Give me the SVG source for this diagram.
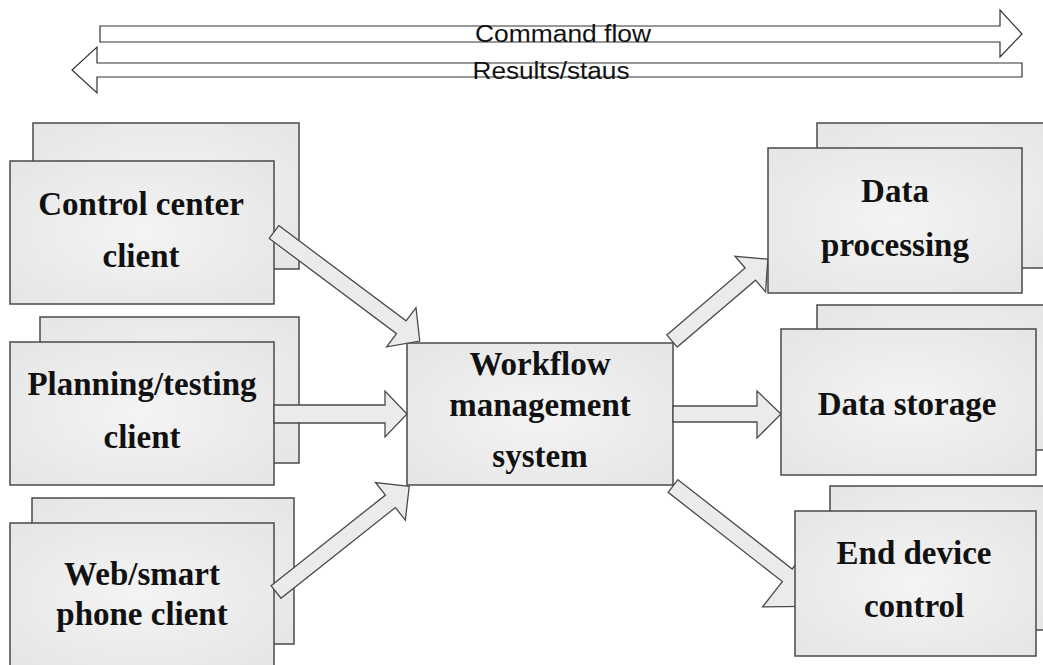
<svg xmlns="http://www.w3.org/2000/svg" width="1043" height="665" viewBox="0 0 1043 665">
<defs>
<radialGradient id="g" cx="50%" cy="50%" r="65%">
<stop offset="0" stop-color="#f4f4f4"/>
<stop offset="1" stop-color="#e6e6e6"/>
</radialGradient>
<style>
.box{fill:url(#g);stroke:#4a4a4a;stroke-width:1.5}
.arr{fill:#ebebeb;stroke:#4a4a4a;stroke-width:1.3;stroke-linejoin:miter}
.flow{fill:#ffffff;stroke:#333333;stroke-width:1.2}
.lbl{font-family:"Liberation Serif","Times New Roman",serif;font-weight:bold;font-size:33px;fill:#111;text-anchor:middle}
.ftxt{font-family:"Liberation Sans",Arial,sans-serif;font-size:23px;fill:#111;text-anchor:middle}
</style>
</defs>
<rect width="1043" height="665" fill="#ffffff"/>

<g id="flow-arrows">
<polygon class="flow" points="100,26 1000,26 1000,10 1022,34 1000,57 1000,42 100,42"/>
<text class="ftxt" x="563" y="42" textLength="176" lengthAdjust="spacingAndGlyphs">Command flow</text>
<polygon class="flow" points="1022,63 97,63 97,47 72,70 97,93 97,77 1022,77"/>
<text class="ftxt" x="551" y="79" textLength="157" lengthAdjust="spacingAndGlyphs">Results/staus</text>
</g>

<g id="control-center">
<rect class="box" x="33" y="123" width="266" height="146"/>
<rect class="box" x="10" y="161" width="264" height="143"/>
<text class="lbl" x="141" y="215">Control center</text>
<text class="lbl" x="141" y="267">client</text>
</g>

<g id="planning">
<rect class="box" x="40" y="317" width="259" height="146"/>
<rect class="box" x="10" y="342" width="264" height="143"/>
<text class="lbl" x="142" y="395">Planning/testing</text>
<text class="lbl" x="142" y="448">client</text>
</g>

<g id="web">
<rect class="box" x="32" y="498" width="262" height="146"/>
<rect class="box" x="10" y="523" width="264" height="145"/>
<text class="lbl" x="142" y="585">Web/smart</text>
<text class="lbl" x="142" y="625">phone client</text>
</g>

<g id="workflow">
<rect class="box" x="407" y="343" width="266" height="142"/>
<text class="lbl" x="540" y="375">Workflow</text>
<text class="lbl" x="540" y="416">management</text>
<text class="lbl" x="540" y="467">system</text>
</g>

<g id="connectors">
<polygon class="arr" transform="translate(274,232) rotate(36.8)" points="0,-8 159,-8 159,-24.5 182,0 159,24.5 159,8 0,8"/>
<polygon class="arr" points="274,405 385,405 385,391 407,414 385,437 385,423 274,423"/>
<polygon class="arr" transform="translate(276,592) rotate(-38.4)" points="0,-8 146,-8 146,-24 170,0 146,24 146,8 0,8"/>
<polygon class="arr" transform="translate(672,341) rotate(-40.5)" points="0,-8 103,-8 103,-23.5 126,0 103,23.5 103,8 0,8"/>
<polygon class="arr" points="673,406 757,406 757,391 781,414 757,438 757,422 673,422"/>
<polygon class="arr" transform="translate(673,486) rotate(38)" points="0,-8 145,-8 145,-40 195,0 145,40 145,8 0,8"/>
</g>

<g id="data-processing">
<rect class="box" x="817" y="123" width="240" height="145"/>
<rect class="box" x="768" y="148" width="254" height="145"/>
<text class="lbl" x="895" y="202">Data</text>
<text class="lbl" x="895" y="256">processing</text>
</g>

<g id="data-storage">
<rect class="box" x="817" y="305" width="240" height="145"/>
<rect class="box" x="781" y="329" width="255" height="146"/>
<text class="lbl" x="907" y="415">Data storage</text>
</g>

<g id="end-device">
<rect class="box" x="830" y="486" width="230" height="144"/>
<rect class="box" x="795" y="511" width="241" height="145"/>
<text class="lbl" x="914" y="564">End device</text>
<text class="lbl" x="914" y="617">control</text>
</g>
</svg>
